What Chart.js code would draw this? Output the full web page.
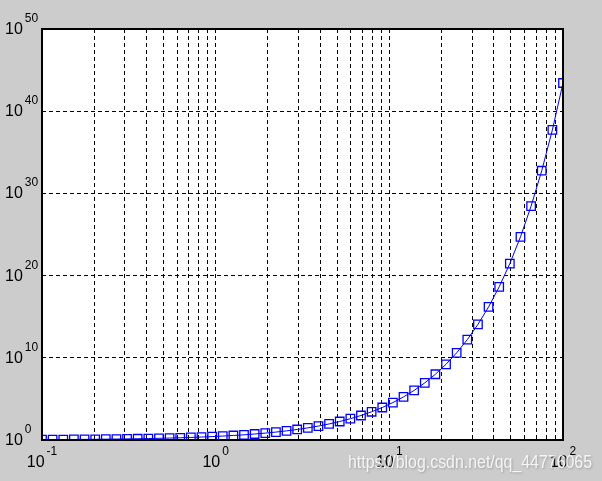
<!DOCTYPE html>
<html>
<head>
<meta charset="utf-8">
<script src="https://cdn.jsdelivr.net/npm/chart.js@4"></script>
<style>
  html, body { margin: 0; padding: 0; background: #cccccc; }
  #wrap { width: 602px; height: 481px; }
</style>
</head>
<body>
<div id="wrap"><canvas id="expChart" width="602" height="481"></canvas></div>
<script>
// sample points (x on log axis, y on log axis)
const xValues = [
  0.1, 0.1151, 0.1326, 0.1526, 0.1758, 0.2024, 0.2330, 0.2683, 0.3089, 0.3556,
  0.4095, 0.4715, 0.5429, 0.6251, 0.7197, 0.8286, 0.9541, 1.0985, 1.2649, 1.4563,
  1.6768, 1.9307, 2.2230, 2.5595, 2.9471, 3.3932, 3.9069, 4.4984, 5.1795, 5.9636,
  6.8665, 7.9060, 9.1030, 10.481, 12.068, 13.895, 15.999, 18.421, 21.210, 24.421,
  28.118, 32.375, 37.276, 42.919, 49.417, 56.899, 65.513, 75.431, 86.851, 100
];
const yValues = [
  1.105, 1.122, 1.142, 1.165, 1.192, 1.224, 1.262, 1.308, 1.362, 1.427,
  1.506, 1.602, 1.721, 1.868, 2.054, 2.290, 2.596, 3.000, 3.543, 4.290,
  5.349, 6.894, 9.236, 12.93, 19.05, 29.77, 49.75, 89.87, 177.6, 389.2,
  960, 2716, 8982, 35630, 174200, 1.083e6, 8.877e6, 1.0005e8, 1.627e9, 4.036e10,
  1.627e12, 1.149e14, 1.544e16, 4.36e18, 2.894e21, 5.138e24, 2.83e28, 5.74e32, 5.23e37, 2.688e43
];

// grid positions and tick labels
const xGridTicks = [
  0.1, 0.2, 0.3, 0.4, 0.5, 0.6, 0.7, 0.8, 0.9,
  1, 2, 3, 4, 5, 6, 7, 8, 9,
  10, 20, 30, 40, 50, 60, 70, 80, 90, 100
];
const xTickExps = [-1, 0, 1, 2];
const yTickExps = [0, 10, 20, 30, 40, 50];
const watermark = 'https://blog.csdn.net/qq_44776065';

const baseFont = '"Liberation Sans", Arial, Helvetica, sans-serif';
const bigFont = '16px ' + baseFont;
const expFont = '12px ' + baseFont;

// white axes box, black frame, 10^n labels and the watermark
const matlabFrame = {
  id: 'matlabFrame',
  beforeDraw(chart) {
    const { ctx, chartArea: a } = chart;
    ctx.save();
    ctx.fillStyle = '#ffffff';
    ctx.fillRect(a.left, a.top, a.right - a.left, a.bottom - a.top);
    ctx.restore();
  },
  afterDraw(chart) {
    const { ctx, chartArea: a } = chart;
    const xs = chart.scales.x;
    const ys = chart.scales.y;
    ctx.save();
    ctx.strokeStyle = '#000000';
    ctx.lineWidth = 2;
    ctx.strokeRect(a.left, a.top, a.right - a.left, a.bottom - a.top);

    ctx.fillStyle = '#000000';
    ctx.textAlign = 'left';
    ctx.textBaseline = 'alphabetic';

    yTickExps.forEach(e => {
      const py = ys.getPixelForValue(Math.pow(10, e));
      ctx.font = bigFont;
      const w10 = ctx.measureText('10').width;
      ctx.fillText('10', 5, py + 5);
      ctx.font = expFont;
      ctx.fillText(String(e), 5 + w10 + 2, py - 7);
    });

    xTickExps.forEach(e => {
      const px = xs.getPixelForValue(Math.pow(10, e));
      ctx.font = bigFont;
      const w10 = ctx.measureText('10').width;
      ctx.font = expFont;
      const wExp = ctx.measureText(String(e)).width;
      const start = px - (w10 + 2 + wExp) / 2;
      ctx.font = bigFont;
      ctx.fillText('10', start, a.bottom + 27);
      ctx.font = expFont;
      ctx.fillText(String(e), start + w10 + 2, a.bottom + 15);
    });

    // blog watermark
    ctx.font = '18px ' + baseFont;
    ctx.shadowColor = 'rgba(120,120,120,0.6)';
    ctx.shadowBlur = 2;
    ctx.shadowOffsetX = 1;
    ctx.shadowOffsetY = 1;
    ctx.fillStyle = 'rgba(255,255,255,0.85)';
    ctx.fillText(watermark, 348, 468, 244);
    ctx.restore();
  }
};

new Chart(document.getElementById('expChart'), {
  type: 'scatter',
  data: {
    datasets: [{
      data: xValues.map((x, i) => ({ x: x, y: yValues[i] })),
      showLine: true,
      borderColor: '#0000ff',
      borderWidth: 1,
      pointStyle: 'rect',
      pointRadius: 6,
      pointBorderWidth: 1.3,
      pointBorderColor: '#0000ff',
      pointBackgroundColor: 'rgba(0,0,0,0)',
      tension: 0
    }]
  },
  options: {
    responsive: false,
    animation: false,
    layout: { padding: { left: 42, top: 29, right: 39, bottom: 41 } },
    plugins: {
      legend: { display: false },
      tooltip: { enabled: false }
    },
    scales: {
      x: {
        type: 'logarithmic',
        min: 0.1,
        max: 100,
        afterBuildTicks: scale => { scale.ticks = xGridTicks.map(v => ({ value: v })); },
        afterFit: scale => { scale.height = 0; },
        ticks: { display: false },
        grid: { color: '#000000', lineWidth: 1, drawTicks: false },
        border: { display: false, dash: [4, 3] }
      },
      y: {
        type: 'logarithmic',
        min: 1,
        max: 1e50,
        afterBuildTicks: scale => { scale.ticks = yTickExps.map(e => ({ value: Math.pow(10, e) })); },
        afterFit: scale => { scale.width = 0; },
        ticks: { display: false },
        grid: { color: '#000000', lineWidth: 1, drawTicks: false },
        border: { display: false, dash: [4, 3] }
      }
    }
  },
  plugins: [matlabFrame]
});
</script>
</body>
</html>
